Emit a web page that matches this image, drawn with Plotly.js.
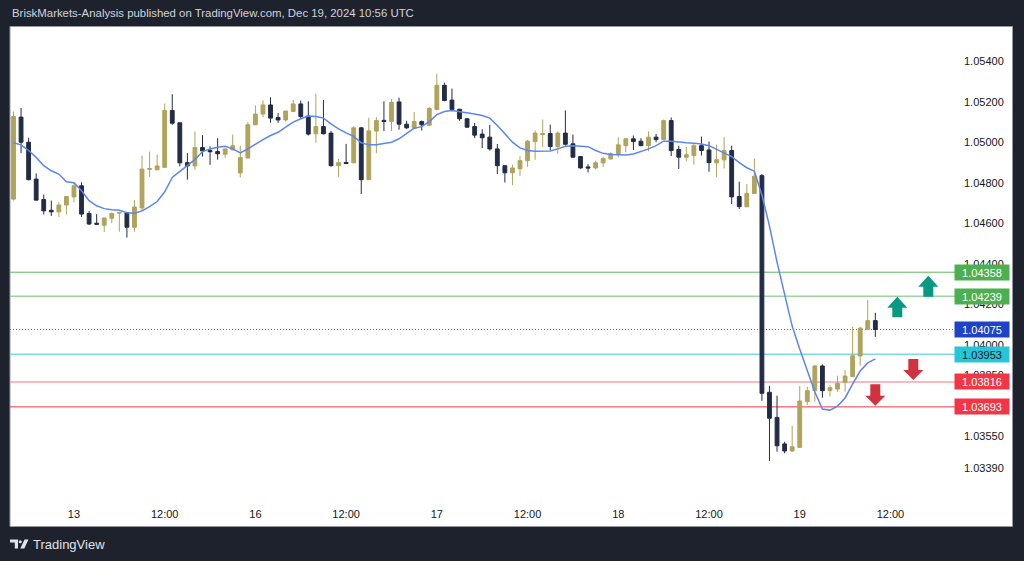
<!DOCTYPE html>
<html><head><meta charset="utf-8">
<script src="https://cdn.plot.ly/plotly-3.0.1.min.js"></script>
<style>html,body{margin:0;padding:0;background:#1e222d;overflow:hidden}#chart{width:1024px;height:561px}</style>
</head><body><div id="chart"></div>
<script>
// EURUSD-like hourly candles, Dec 12 16:00 -> Dec 19 10:00 (weekend removed)
const openP = [
1.04719,1.05124,1.05000,1.04818,1.04717,1.04664,1.04656,1.04690,1.04730,1.04785,
1.04648,1.04600,1.04590,1.04624,1.04650,1.04652,1.04580,1.04675,1.04866,1.04864,
1.04876,1.05157,1.05096,1.04899,1.04883,1.04974,1.04959,1.04954,1.04941,1.04962,
1.04848,1.04922,1.05086,1.05139,1.05184,1.05122,1.05110,1.05152,1.05189,1.05129,
1.05042,1.05077,1.05045,1.04884,1.04900,1.04898,1.05071,1.04815,1.05055,1.05108,
1.05103,1.05199,1.05089,1.05069,1.05102,1.05084,1.05162,1.05281,1.05208,1.05163,
1.05116,1.05077,1.05040,1.05025,1.04967,1.04884,1.04849,1.04869,1.04909,1.05003,
1.05038,1.05043,1.04979,1.05045,1.04992,1.04929,1.04878,1.04873,1.04898,1.04917,
1.04939,1.04983,1.05017,1.05005,1.04983,1.05025,1.05013,1.05107,1.04964,1.04926,
1.04934,1.04983,1.04962,1.04898,1.04913,1.04959,1.04732,1.04681,1.04747,1.04835,
1.03765,1.03641,1.03510,1.03475,1.03493,1.03719,1.03773,1.03895,1.03773,1.03781,
1.03814,1.03842,1.03944,1.04076,1.04119];
const highP = [
1.05152,1.05169,1.05022,1.04846,1.04742,1.04712,1.04703,1.04733,1.04802,1.04802,
1.04660,1.04645,1.04628,1.04653,1.04656,1.04656,1.04714,1.04934,1.04954,1.04939,
1.05191,1.05237,1.05096,1.04946,1.05053,1.05035,1.04980,1.05020,1.04969,1.05038,
1.04983,1.05099,1.05182,1.05207,1.05222,1.05144,1.05155,1.05208,1.05206,1.05202,
1.05240,1.05208,1.05056,1.04917,1.04992,1.05079,1.05076,1.05121,1.05124,1.05202,
1.05213,1.05220,1.05106,1.05149,1.05107,1.05174,1.05339,1.05294,1.05265,1.05164,
1.05117,1.05095,1.05064,1.05086,1.04991,1.04884,1.04889,1.04931,1.05011,1.05058,
1.05112,1.05087,1.05053,1.05157,1.05038,1.04932,1.04891,1.04909,1.04929,1.04950,
1.05025,1.05018,1.05033,1.05020,1.05053,1.05041,1.05112,1.05122,1.04983,1.04977,
1.04992,1.05028,1.05003,1.04988,1.05025,1.04983,1.04805,1.04793,1.04919,1.04843,
1.03797,1.03748,1.03521,1.03599,1.03796,1.03793,1.03900,1.03903,1.03801,1.03847,
1.03875,1.04089,1.04089,1.04221,1.04158];
const lowP = [
1.04712,1.04946,1.04812,1.04712,1.04643,1.04636,1.04631,1.04643,1.04703,1.04631,
1.04591,1.04591,1.04557,1.04600,1.04558,1.04529,1.04557,1.04661,1.04829,1.04862,
1.04874,1.05086,1.04881,1.04815,1.04864,1.04929,1.04888,1.04914,1.04923,1.04961,
1.04826,1.04922,1.05085,1.05124,1.05096,1.05096,1.05102,1.05150,1.05119,1.05033,
1.04997,1.05038,1.04879,1.04829,1.04892,1.04897,1.04744,1.04814,1.04946,1.05055,
1.05055,1.05062,1.05066,1.05068,1.05058,1.05079,1.05157,1.05202,1.05156,1.05106,
1.05073,1.05020,1.04971,1.04959,1.04843,1.04801,1.04788,1.04833,1.04879,1.04913,
1.04975,1.04959,1.04943,1.04983,1.04924,1.04869,1.04851,1.04866,1.04878,1.04916,
1.04925,1.04950,1.04962,1.04981,1.04955,1.05000,1.05011,1.04931,1.04868,1.04906,
1.04889,1.04934,1.04854,1.04826,1.04870,1.04695,1.04670,1.04680,1.04745,1.03723,
1.03426,1.03472,1.03464,1.03470,1.03490,1.03702,1.03719,1.03738,1.03743,1.03768,
1.03768,1.03841,1.03896,1.04075,1.04039];
const closeP = [
1.05127,1.05000,1.04815,1.04714,1.04661,1.04656,1.04690,1.04732,1.04785,1.04645,
1.04596,1.04595,1.04626,1.04648,1.04652,1.04580,1.04680,1.04867,1.04870,1.04883,
1.05157,1.05094,1.04898,1.04883,1.04974,1.04957,1.04953,1.04943,1.04967,1.04983,
1.04924,1.05086,1.05139,1.05184,1.05119,1.05110,1.05154,1.05189,1.05127,1.05040,
1.05077,1.05042,1.04884,1.04899,1.04895,1.05071,1.04815,1.05056,1.05107,1.05103,
1.05197,1.05089,1.05071,1.05102,1.05086,1.05167,1.05281,1.05206,1.05162,1.05116,
1.05074,1.05035,1.05022,1.04967,1.04884,1.04849,1.04873,1.04909,1.05005,1.05045,
1.05043,1.04979,1.05045,1.04990,1.04926,1.04873,1.04873,1.04899,1.04919,1.04944,
1.04987,1.05017,1.05003,1.04983,1.05025,1.05013,1.05107,1.04959,1.04926,1.04938,
1.04983,1.04959,1.04899,1.04914,1.04959,1.04730,1.04682,1.04747,1.04832,1.03760,
1.03637,1.03501,1.03475,1.03496,1.03722,1.03773,1.03895,1.03773,1.03788,1.03809,
1.03845,1.03945,1.04082,1.04119,1.04075];
const maLine = [
1.04997,1.04987,1.04959,1.04925,1.04884,1.04859,1.04843,1.04805,1.04800,1.04760,
1.04711,1.04686,1.04672,1.04666,1.04664,1.04652,1.04649,1.04661,1.04682,1.04707,
1.04755,1.04826,1.04856,1.04884,1.04914,1.04954,1.04967,1.04975,1.04980,1.04967,
1.04947,1.04967,1.04992,1.05013,1.05033,1.05049,1.05074,1.05099,1.05116,1.05129,
1.05127,1.05119,1.05091,1.05066,1.05046,1.05029,1.04997,1.04987,1.04987,1.04992,
1.05000,1.05017,1.05041,1.05069,1.05077,1.05102,1.05136,1.05152,1.05157,1.05152,
1.05146,1.05139,1.05132,1.05119,1.05083,1.05041,1.05000,1.04972,1.04959,1.04955,
1.04955,1.04957,1.04967,1.04980,1.04983,1.04980,1.04978,1.04959,1.04945,1.04939,
1.04937,1.04937,1.04942,1.04954,1.04967,1.04983,1.05005,1.05005,1.05000,1.04997,
1.04995,1.04991,1.04983,1.04966,1.04948,1.04929,1.04899,1.04874,1.04857,1.04739,
1.04586,1.04408,1.04250,1.04092,1.03979,1.03875,1.03766,1.03682,1.03677,1.03697,
1.03737,1.03806,1.03870,1.03910,1.03930];

// time axis (bar slots)
const tickSlots = [8,20,32,44,56,68,80,92,104,116];
const tickText  = ["13","12:00","16","12:00","17","12:00","18","12:00","19","12:00"];
// price axis
const priceTicks = [1.054,1.052,1.050,1.048,1.046,1.044,1.042,1.040,1.0385,1.0355,1.0339];
// horizontal levels
const levelPrices = [1.04358,1.04239,1.04075,1.03953,1.03816,1.03693];
const levelLine   = ['#5cb860','#9fd3a2','#4a6fe3','#7fd9e6','#f4a3aa','#f23645'];
const levelBox    = ['#4caf50','#4caf50','#1f43c7','#26c6da','#f23645','#f23645'];
const levelText   = ['#ffffff','#ffffff','#ffffff','#131722','#ffffff','#ffffff'];

const W=1024,H=561,L=10,R=69,T=27,B=62;
const plotW=W-L-R, plotH=H-T-B;
const pxX = x => (x-L)/plotW;
const pxY = y => (H-B-y)/plotH;
const slots = openP.map((_,i)=>i);
const FONT = 'Liberation Sans, Arial, sans-serif';
const GOLD='#b0a35a', DARK='#232c46';

const traces = [
 {type:'scatter',mode:'lines',x:slots,y:maLine,line:{color:'#5b86f2',width:1.5},hoverinfo:'skip'},
 {type:'candlestick',x:slots,open:openP,high:highP,low:lowP,close:closeP,
  increasing:{line:{color:GOLD,width:1},fillcolor:GOLD},
  decreasing:{line:{color:DARK,width:1},fillcolor:DARK},
  whiskerwidth:0,hoverinfo:'skip'}
];

const shapes = [];
// white chart frame
shapes.push({type:'rect',xref:'paper',yref:'paper',x0:pxX(10),x1:pxX(1012.5),y0:pxY(526.5),y1:pxY(26.5),
  fillcolor:'#ffffff',line:{color:'#9598a1',width:1},layer:'below'});
levelPrices.forEach((p,i)=>{
  shapes.push({type:'line',xref:'paper',yref:'y',x0:0,x1:1,y0:p,y1:p,layer:'below',
    line:{color:levelLine[i],width:(i===1||i===3||i===4)?1.6:1,dash:(i===2?'1px,2px':'solid')}});
});
function arrow(cx,tip,base,end,color){
  const pts=[[cx,tip],[cx+10,base],[cx+5,base],[cx+5,end],[cx-5,end],[cx-5,base],[cx-10,base]];
  return {type:'path',xref:'paper',yref:'paper',layer:'above',fillcolor:color,line:{width:0},
    path:'M'+pts.map(p=>pxX(p[0])+','+pxY(p[1])).join('L')+'Z'};
}
shapes.push(arrow(897.3,296.7,307.7,317.3,'#089981'));
shapes.push(arrow(928.3,275.7,286.7,296.7,'#089981'));
shapes.push(arrow(913.3,380,370,359,'#d1323f'));
shapes.push(arrow(875.3,405.7,395.7,384.3,'#d1323f'));
// TradingView logo mark
function poly(pts,color){return {type:'path',xref:'paper',yref:'paper',layer:'above',fillcolor:color,line:{width:0},
  path:'M'+pts.map(p=>pxX(p[0])+','+pxY(p[1])).join('L')+'Z'};}
shapes.push(poly([[10,539.5],[18,539.5],[18,548.5],[14.8,548.5],[14.8,542.6],[10,542.6]],'#e0e3eb'));
shapes.push({type:'circle',xref:'paper',yref:'paper',x0:pxX(18.8),x1:pxX(21.8),y0:pxY(543.2),y1:pxY(540.2),fillcolor:'#e0e3eb',line:{width:0}});
shapes.push(poly([[24.5,539.5],[28.5,539.5],[24.3,548.5],[20.3,548.5]],'#e0e3eb'));

const annotations = [];
annotations.push({xref:'paper',yref:'paper',x:pxX(10),y:pxY(13.5),xanchor:'left',yanchor:'middle',showarrow:false,
  text:'BriskMarkets-Analysis published on TradingView.com, Dec 19, 2024 10:56 UTC',font:{family:FONT,size:11.4,color:'#d1d4dc'}});
annotations.push({xref:'paper',yref:'paper',x:pxX(30.5),y:pxY(544),xanchor:'left',yanchor:'middle',showarrow:false,
  text:'TradingView',font:{family:FONT,size:13,color:'#e0e3eb'}});
levelPrices.forEach((p,i)=>{
  annotations.push({xref:'paper',yref:'y',x:pxX(982),y:p,xanchor:'center',yanchor:'middle',showarrow:false,
    text:p.toFixed(5),font:{family:FONT,size:11,color:levelText[i]},bgcolor:levelBox[i],
    width:52,height:13,borderpad:1,align:'center'});
});

const layout = {
  width:W,height:H,margin:{l:L,r:R,t:T,b:B,pad:0},
  paper_bgcolor:'#1e222d',plot_bgcolor:'#ffffff',showlegend:false,
  xaxis:{type:'linear',range:[-0.463,124.54],showgrid:false,zeroline:false,showline:false,
    tickmode:'array',tickvals:tickSlots,ticktext:tickText,ticks:'',ticklabelstandoff:7,
    tickfont:{family:FONT,size:11,color:'#131722'},rangeslider:{visible:false},fixedrange:true},
  yaxis:{side:'right',range:[1.03238,1.05569],showgrid:false,zeroline:false,showline:false,
    tickmode:'array',tickvals:priceTicks,ticktext:priceTicks.map(v=>v.toFixed(5)),ticks:'',ticklabelstandoff:8,
    tickfont:{family:FONT,size:11,color:'#131722'},fixedrange:true},
  shapes:shapes,annotations:annotations,boxgap:0.28
};
Plotly.newPlot('chart',traces,layout,{staticPlot:true,displayModeBar:false});
</script></body></html>
